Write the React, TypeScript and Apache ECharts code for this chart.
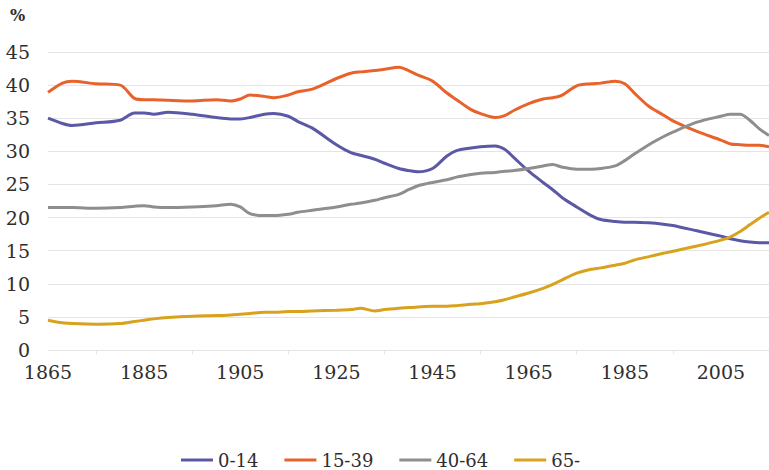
import React, { useEffect, useRef } from "react";
import * as echarts from "echarts";

const years = [1865, 1868, 1870, 1875, 1880, 1883, 1885, 1887, 1890, 1895, 1900, 1903, 1905, 1907, 1910, 1912, 1915, 1917, 1920, 1925, 1928, 1930, 1933, 1935, 1938, 1940, 1942, 1945, 1948, 1950, 1953, 1955, 1958, 1960, 1962, 1965, 1968, 1970, 1972, 1975, 1978, 1980, 1983, 1985, 1987, 1990, 1993, 1995, 2000, 2005, 2007, 2009, 2011, 2013, 2015];

const age0_14 = [35.0, 34.2, 33.9, 34.3, 34.7, 35.8, 35.8, 35.6, 35.9, 35.6, 35.1, 34.9, 34.9, 35.1, 35.6, 35.7, 35.3, 34.5, 33.5, 31.0, 29.8, 29.4, 28.8, 28.2, 27.4, 27.1, 26.9, 27.4, 29.3, 30.1, 30.5, 30.7, 30.8, 30.3, 29.0, 27.0, 25.3, 24.2, 23.0, 21.6, 20.3, 19.7, 19.4, 19.3, 19.3, 19.2, 19.0, 18.8, 18.0, 17.2, 16.8, 16.5, 16.3, 16.2, 16.2];

const age15_39 = [38.9, 40.3, 40.6, 40.2, 40.0, 38.0, 37.8, 37.8, 37.7, 37.6, 37.8, 37.6, 37.9, 38.5, 38.3, 38.1, 38.5, 39.0, 39.4, 41.0, 41.8, 42.0, 42.2, 42.4, 42.7, 42.2, 41.5, 40.6, 38.8, 37.8, 36.3, 35.7, 35.1, 35.4, 36.2, 37.2, 37.9, 38.1, 38.5, 39.9, 40.2, 40.3, 40.6, 40.2, 38.8, 36.8, 35.5, 34.6, 33.0, 31.7, 31.1, 31.0, 30.9, 30.9, 30.7];

const age40_64 = [21.5, 21.5, 21.5, 21.4, 21.5, 21.7, 21.8, 21.6, 21.5, 21.6, 21.8, 22.0, 21.6, 20.6, 20.3, 20.3, 20.5, 20.8, 21.1, 21.6, 22.0, 22.2, 22.6, 23.0, 23.5, 24.2, 24.8, 25.3, 25.7, 26.1, 26.5, 26.7, 26.8, 27.0, 27.1, 27.4, 27.8, 28.0, 27.6, 27.3, 27.3, 27.4, 27.8, 28.6, 29.6, 31.0, 32.2, 32.9, 34.4, 35.3, 35.6, 35.6, 34.7, 33.4, 32.4];

const age65 = [4.5, 4.1, 4.0, 3.9, 4.0, 4.3, 4.5, 4.7, 4.9, 5.1, 5.2, 5.3, 5.4, 5.5, 5.7, 5.7, 5.8, 5.8, 5.9, 6.0, 6.1, 6.3, 5.9, 6.1, 6.3, 6.4, 6.5, 6.6, 6.6, 6.7, 6.9, 7.0, 7.3, 7.6, 8.0, 8.6, 9.3, 9.9, 10.6, 11.6, 12.2, 12.4, 12.8, 13.1, 13.6, 14.1, 14.6, 14.9, 15.7, 16.6, 17.1, 17.9, 18.9, 19.9, 20.8];

const seriesNames = ["0-14", "15-39", "40-64", "65-"];
const seriesColors = ["#5b58a6", "#e8622c", "#8e8e8e", "#d9a21e"];
const seriesValues = [age0_14, age15_39, age40_64, age65];

const FONT = "DejaVu Serif";

export default function App() {
  const ref = useRef<HTMLDivElement>(null);
  useEffect(() => {
    if (!ref.current) return;
    const chart = echarts.init(ref.current, undefined, { renderer: "svg" });
    chart.setOption({
      animation: false,
      backgroundColor: "#ffffff",
      title: {
        text: "%",
        left: 5,
        top: 2,
        textStyle: { fontFamily: FONT, fontSize: 16, fontWeight: "bold", color: "#2e2e2e" },
      },
      legend: {
        data: seriesNames,
        left: 176,
        top: 445,
        icon: "rect",
        itemWidth: 32,
        itemHeight: 3,
        itemGap: 26,
        textStyle: { fontFamily: FONT, fontSize: 18, color: "#2e2e2e", lineHeight: 20 },
      },
      grid: { left: 48, right: 0, top: 52, bottom: 120, containLabel: false },
      xAxis: {
        type: "value",
        min: 1865,
        max: 2015,
        interval: 20,
        axisLine: { show: false },
        axisTick: { show: false },
        minorTick: { show: true, splitNumber: 2, length: 4, lineStyle: { color: "#e6e6e6" } },
        splitLine: { show: false },
        axisLabel: {
          showMaxLabel: false,
          margin: 12,
          fontFamily: FONT,
          fontSize: 19,
          color: "#2e2e2e",
          formatter: (v: number) => String(v),
        },
      },
      yAxis: {
        type: "value",
        min: 0,
        max: 45,
        interval: 5,
        axisLine: { show: false },
        axisTick: { show: false },
        splitLine: { lineStyle: { color: "#e4e4e4", width: 1 } },
        axisLabel: { margin: 18, fontFamily: FONT, fontSize: 19, color: "#2e2e2e" },
      },
      series: seriesNames.map((name, i) => ({
        name,
        type: "line",
        smooth: 0.3,
        symbol: "none",
        lineStyle: { width: 3, color: seriesColors[i] },
        itemStyle: { color: seriesColors[i] },
        data: years.map((y, j) => [y, seriesValues[i][j]]),
      })),
    });
    return () => chart.dispose();
  }, []);
  return <div ref={ref} style={{ width: 769, height: 470, position: "absolute", left: 0, top: 0 }} />;
}
